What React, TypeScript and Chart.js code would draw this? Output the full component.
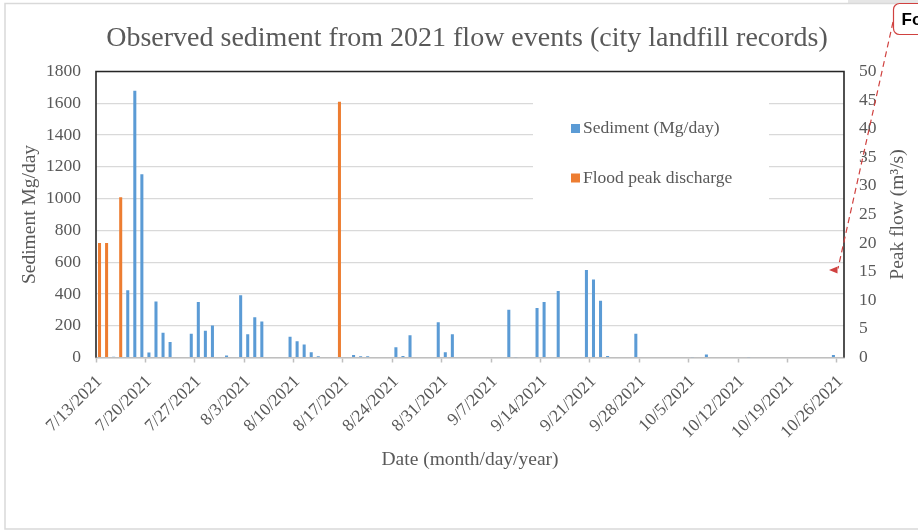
import React, { useEffect, useRef } from 'react';
import { Chart, registerables } from 'chart.js';

Chart.register(...registerables);

// ---- data ----
const startYear = 2021;
const startMonth = 7;
const startDay = 13;
const dayCount = 106; // 7/13/2021 .. 10/26/2021

const sedimentDates = [
  '7/15/2021', '7/17/2021', '7/18/2021', '7/19/2021', '7/20/2021', '7/21/2021', '7/22/2021', '7/23/2021',
  '7/26/2021', '7/27/2021', '7/28/2021', '7/29/2021', '7/31/2021', '8/2/2021', '8/3/2021', '8/4/2021',
  '8/5/2021', '8/9/2021', '8/10/2021', '8/11/2021', '8/12/2021', '8/13/2021', '8/18/2021', '8/19/2021',
  '8/20/2021', '8/21/2021', '8/24/2021', '8/25/2021', '8/26/2021', '8/28/2021', '8/30/2021', '8/31/2021',
  '9/1/2021', '9/4/2021', '9/9/2021', '9/10/2021', '9/13/2021', '9/14/2021', '9/16/2021', '9/20/2021',
  '9/21/2021', '9/22/2021', '9/23/2021', '9/27/2021', '10/5/2021', '10/7/2021', '10/13/2021', '10/25/2021',
];
const sedimentValues = [
  5, 424, 1679, 1153, 31, 353, 155, 98,
  149, 350, 168, 201, 13, 392, 147, 254,
  227, 130, 103, 82, 33, 8, 15, 8,
  8, 3, 65, 10, 140, 3, 222, 33,
  147, 3, 300, 2, 311, 350, 418, 550,
  491, 357, 10, 149, 2, 19, 2, 15,
];

const floodDates = ['7/13/2021', '7/14/2021', '7/16/2021', '8/16/2021'];
const floodValues = [20, 20, 28, 44.7];

const leftAxisMax = 1800;
const leftAxisStep = 200;
const rightAxisMax = 50;
const rightAxisStep = 5;

const titleText = 'Observed sediment from 2021 flow events (city landfill records)';
const xTitle = 'Date (month/day/year)';
const yTitle = 'Sediment Mg/day';
const y1Title = 'Peak flow (m\u00B3/s)';
const legendLabels = ['Sediment (Mg/day)', 'Flood peak discharge'];

// ---- styles ----
const BLUE = '#5B9BD5';
const ORANGE = '#ED7D31';
const TEXT = '#595959';
const SERIF = "'Liberation Serif', 'Times New Roman', serif";

function buildDays(): string[] {
  const out: string[] = [];
  for (let i = 0; i < dayCount; i++) {
    const d = new Date(startYear, startMonth - 1, startDay + i);
    out.push(`${d.getMonth() + 1}/${d.getDate()}/${d.getFullYear()}`);
  }
  return out;
}

function spread(days: string[], dates: string[], values: number[]): (number | null)[] {
  return days.map((d) => {
    const k = dates.indexOf(d);
    return k >= 0 ? values[k] : null;
  });
}

const decorPlugin = {
  id: 'decor',
  afterDraw(chart: any) {
    const ctx = chart.ctx as CanvasRenderingContext2D;
    const a = chart.chartArea;
    ctx.save();

    // outer chart border
    ctx.fillStyle = '#e6e6e6';
    ctx.fillRect(848, 0, 70, 3);
    ctx.strokeStyle = '#d9d9d9';
    ctx.lineWidth = 1.5;
    ctx.beginPath();
    ctx.moveTo(918, 3.5);
    ctx.lineTo(5, 3.5);
    ctx.lineTo(5, 529);
    ctx.lineTo(918, 529);
    ctx.stroke();

    // plot area border (left, top, right)
    ctx.strokeStyle = '#262626';
    ctx.lineWidth = 1.6;
    ctx.beginPath();
    ctx.moveTo(a.left, a.bottom);
    ctx.lineTo(a.left, a.top);
    ctx.lineTo(a.right, a.top);
    ctx.lineTo(a.right, a.bottom);
    ctx.stroke();

    // legend inside plot area
    ctx.fillStyle = '#ffffff';
    ctx.fillRect(533, 101, 236, 101);
    ctx.font = `17.5px ${SERIF}`;
    ctx.textBaseline = 'middle';
    ctx.textAlign = 'left';
    const colors = [BLUE, ORANGE];
    const ys = [128.5, 178];
    for (let i = 0; i < legendLabels.length; i++) {
      ctx.fillStyle = colors[i];
      ctx.fillRect(571, ys[i] - 4.5, 9, 9);
      ctx.fillStyle = TEXT;
      ctx.fillText(legendLabels[i], 583, ys[i]);
    }

    // right axis title, reading bottom to top
    ctx.save();
    ctx.translate(898, (a.top + a.bottom) / 2);
    ctx.rotate(-Math.PI / 2);
    ctx.textAlign = 'center';
    ctx.textBaseline = 'middle';
    ctx.font = `19.5px ${SERIF}`;
    ctx.fillStyle = TEXT;
    ctx.fillText(y1Title, 0, 0);
    ctx.restore();

    // callout with dashed leader
    ctx.strokeStyle = '#d0413f';
    ctx.lineWidth = 1.2;
    ctx.beginPath();
    (ctx as any).roundRect(893.5, 3.5, 60, 31, 6);
    ctx.fillStyle = '#ffffff';
    ctx.fill();
    ctx.stroke();
    ctx.fillStyle = '#000000';
    ctx.font = "bold 17px 'Liberation Sans', Arial, sans-serif";
    ctx.textAlign = 'left';
    ctx.textBaseline = 'middle';
    ctx.fillText('Fo', 901.5, 20);

    ctx.setLineDash([6, 4]);
    ctx.beginPath();
    ctx.moveTo(893, 22);
    ctx.lineTo(838, 268.5);
    ctx.stroke();
    ctx.setLineDash([]);
    ctx.fillStyle = '#d0413f';
    ctx.beginPath();
    ctx.moveTo(829, 270);
    ctx.lineTo(837.5, 266.5);
    ctx.lineTo(837.5, 273.5);
    ctx.closePath();
    ctx.fill();

    ctx.restore();
  },
};

export default function App() {
  const ref = useRef<HTMLCanvasElement | null>(null);

  useEffect(() => {
    document.body.style.margin = '0';
    const canvas = ref.current;
    if (!canvas) return;
    const days = buildDays();
    Chart.defaults.font.family = SERIF;

    const chart = new Chart(canvas, {
      type: 'bar',
      data: {
        labels: days,
        datasets: [
          {
            label: legendLabels[0],
            data: spread(days, sedimentDates, sedimentValues),
            backgroundColor: BLUE,
            yAxisID: 'y',
            barPercentage: 0.43,
            categoryPercentage: 1,
            grouped: false,
            order: 2,
          },
          {
            label: legendLabels[1],
            data: spread(days, floodDates, floodValues),
            backgroundColor: ORANGE,
            yAxisID: 'y1',
            barPercentage: 0.43,
            categoryPercentage: 1,
            grouped: false,
            order: 1,
          },
        ],
      },
      options: {
        responsive: false,
        animation: false,
        events: [],
        layout: { padding: { left: 16, right: 0, top: 0, bottom: 0 } },
        plugins: {
          legend: { display: false },
          tooltip: { enabled: false },
          title: {
            display: true,
            text: titleText,
            color: TEXT,
            font: { family: SERIF, size: 28, weight: 'normal' },
            padding: { top: 21.5, bottom: 16.4 },
          },
        },
        scales: {
          x: {
            type: 'category',
            offset: true,
            grid: {
              offset: true,
              drawOnChartArea: false,
              drawTicks: true,
              tickLength: 5,
              tickWidth: 1.5,
              tickColor: (c: any) => (typeof c.index === 'number' && c.index % 7 === 0 ? '#bfbfbf' : 'rgba(0,0,0,0)'),
            },
            border: { display: true, color: '#bfbfbf', width: 1.5 },
            ticks: {
              autoSkip: false,
              minRotation: 45,
              maxRotation: 45,
              padding: 9,
              color: TEXT,
              font: { family: SERIF, size: 17.5 },
              callback: function (this: any, val: any, idx: number) {
                return idx % 7 === 0 ? this.getLabelForValue(val) : '';
              },
            },
            title: {
              display: true,
              text: xTitle,
              color: TEXT,
              font: { family: SERIF, size: 19.5 },
              padding: { top: 0, bottom: 59 },
            },
            afterFit: (s: any) => {
              s.height = 173.5;
            },
          },
          y: {
            position: 'left',
            min: 0,
            max: leftAxisMax,
            ticks: {
              stepSize: leftAxisStep,
              padding: 15,
              color: TEXT,
              font: { family: SERIF, size: 17.5 },
              callback: (v: any) => String(v),
            },
            grid: { color: '#d9d9d9', lineWidth: 1.2, drawTicks: false },
            border: { display: false },
            title: {
              display: true,
              text: yTitle,
              color: TEXT,
              font: { family: SERIF, size: 19.5 },
              padding: { top: 2, bottom: 0 },
            },
            afterFit: (s: any) => {
              s.width = 80;
            },
          },
          y1: {
            position: 'right',
            min: 0,
            max: rightAxisMax,
            ticks: {
              stepSize: rightAxisStep,
              padding: 15,
              color: TEXT,
              font: { family: SERIF, size: 17.5 },
              callback: (v: any) => String(v),
            },
            grid: { drawOnChartArea: false, drawTicks: false },
            border: { display: false },
            afterFit: (s: any) => {
              s.width = 74;
            },
          },
        },
      } as any,
      plugins: [decorPlugin],
    });

    return () => {
      chart.destroy();
    };
  }, []);

  return (
    <div style={{ width: 918, height: 531, position: 'relative' }}>
      <canvas ref={ref} width={918} height={531} style={{ display: 'block' }} />
    </div>
  );
}
